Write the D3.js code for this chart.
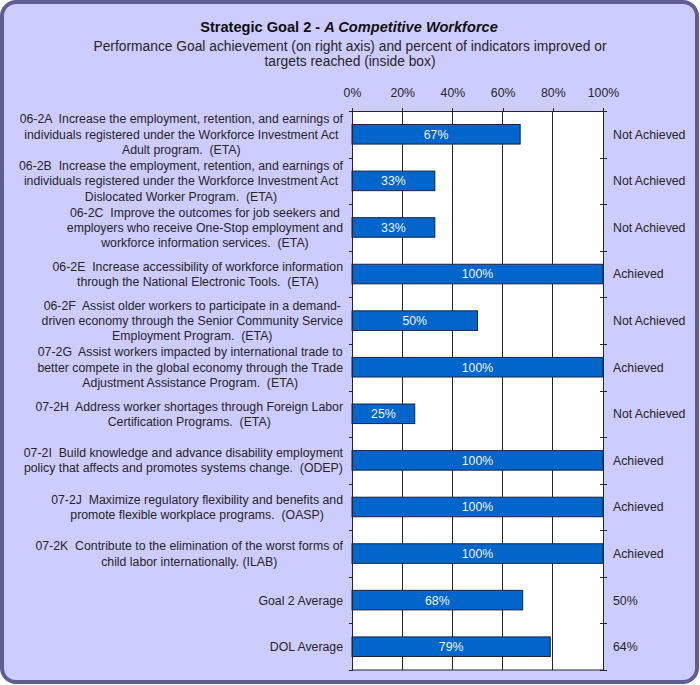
<!DOCTYPE html>
<html><head><meta charset="utf-8">
<script src="https://cdn.jsdelivr.net/npm/d3@7"></script>
<style>
body{margin:0;background:#fff;}
text{font-family:"Liberation Sans",Arial,sans-serif;white-space:pre;}
</style></head>
<body>
<svg id="chart" width="700" height="685"></svg>
<script>
const labels = [
 ["06-2A  Increase the employment, retention, and earnings of","individuals registered under the Workforce Investment Act","Adult program.  (ETA)"],
 ["06-2B  Increase the employment, retention, and earnings of","individuals registered under the Workforce Investment Act","Dislocated Worker Program.  (ETA)"],
 ["06-2C  Improve the outcomes for job seekers and","employers who receive One-Stop employment and","workforce information services.  (ETA)"],
 ["06-2E  Increase accessibility of workforce information","through the National Electronic Tools.  (ETA)"],
 ["06-2F  Assist older workers to participate in a demand-","driven economy through the Senior Community Service","Employment Program.  (ETA)"],
 ["07-2G  Assist workers impacted by international trade to","better compete in the global economy through the Trade","Adjustment Assistance Program.  (ETA)"],
 ["07-2H  Address worker shortages through Foreign Labor","Certification Programs.  (ETA)"],
 ["07-2I  Build knowledge and advance disability employment","policy that affects and promotes systems change.  (ODEP)"],
 ["07-2J  Maximize regulatory flexibility and benefits and","promote flexible workplace programs.  (OASP)"],
 ["07-2K  Contribute to the elimination of the worst forms of","child labor internationally. (ILAB)"],
 ["Goal 2 Average"],
 ["DOL Average"]
];
const values = [67, 33, 33, 100, 50, 100, 25, 100, 100, 100, 68, 79];
const achievement = ["Not Achieved","Not Achieved","Not Achieved","Achieved","Not Achieved","Achieved","Not Achieved","Achieved","Achieved","Achieved","50%","64%"];
const xTicks = [0, 20, 40, 60, 80, 100];
const titleBold = "Strategic Goal 2 - ";
const titleItalic = "A Competitive Workforce";
const subtitle = ["Performance Goal achievement (on right axis) and percent of indicators improved or","targets reached (inside box)"];

const svg = d3.select("#chart");
const W = 700, H = 685;
const plot = {left: 352, right: 603, top: 111, bottom: 670};
const ink = "#262626";
const fs = 12.3;

// panel
svg.append("rect").attr("x",2).attr("y",2).attr("width",W-5).attr("height",H-5)
  .attr("rx",14).attr("ry",14)
  .attr("fill","#ccccff").attr("stroke","#5e5e93").attr("stroke-width",4);

// title
const t = svg.append("text").attr("x",349).attr("y",32).attr("text-anchor","middle")
  .attr("font-size",14.6).attr("font-weight","bold").attr("fill","#111");
t.append("tspan").text(titleBold);
t.append("tspan").attr("font-style","italic").text(titleItalic);
subtitle.forEach((s,i)=>{
  svg.append("text").attr("x",350).attr("y",50.5+i*15.8).attr("text-anchor","middle")
    .attr("font-size",13.8).attr("fill",ink).text(s);
});

const idx = d3.range(values.length);
const x = d3.scaleLinear().domain([0,100]).range([plot.left, plot.right]);
const y = d3.scaleBand().domain(idx).range([plot.top, plot.bottom]).padding(0);
const yb = d3.scaleLinear().domain([0, values.length]).range([plot.top, plot.bottom]);
const barH = y.bandwidth()*0.42;

// plot background
svg.append("rect").attr("x",plot.left).attr("y",plot.top)
  .attr("width",plot.right-plot.left).attr("height",plot.bottom-plot.top).attr("fill","#fff");

// gridlines
svg.append("g").selectAll("line").data(xTicks.slice(1,-1)).join("line")
  .attr("x1",d=>x(d)).attr("x2",d=>x(d)).attr("y1",plot.top).attr("y2",plot.bottom)
  .attr("stroke",ink).attr("stroke-width",1).attr("shape-rendering","crispEdges");

// bars
svg.append("g").selectAll("rect").data(idx).join("rect")
  .attr("x",x(0)).attr("y",i=>y(i)+(y.bandwidth()-barH)/2)
  .attr("width",i=>x(values[i])-x(0)).attr("height",barH)
  .attr("fill","#0066cc").attr("stroke","#1c2240").attr("stroke-width",1);

svg.append("g").selectAll("text").data(idx).join("text")
  .attr("x",i=>(x(0)+x(values[i]))/2).attr("y",i=>y(i)+y.bandwidth()/2)
  .attr("dy","0.36em").attr("text-anchor","middle").attr("font-size",fs)
  .attr("fill","#f4f4f4").text(i=>values[i]+"%");

// axes
const axTop = svg.append("g").attr("transform",`translate(0,${plot.top})`)
  .call(d3.axisTop(x).tickValues(xTicks).tickFormat(d=>d+"%").tickSize(3).tickSizeOuter(3));
const axLeft = svg.append("g").attr("transform",`translate(${plot.left},0)`)
  .call(d3.axisLeft(yb).tickValues(d3.range(values.length+1)).tickFormat("").tickSize(3).tickSizeOuter(0));
const axRight = svg.append("g").attr("transform",`translate(${plot.right},0)`)
  .call(d3.axisRight(yb).tickValues(d3.range(values.length+1)).tickFormat("").tickSize(4).tickSizeOuter(0));
axRight.selectAll(".tick line").attr("x1",-3);
svg.append("line").attr("x1",plot.left).attr("x2",plot.right).attr("y1",plot.bottom).attr("y2",plot.bottom)
  .attr("stroke",ink);
[axTop,axLeft,axRight].forEach(a=>{
  a.selectAll("path,line").attr("stroke",ink).attr("shape-rendering","crispEdges");
});
axTop.selectAll("text").attr("font-size",fs).attr("fill",ink)
  .attr("font-family","'Liberation Sans',Arial,sans-serif").attr("y",-18).attr("dy","0.36em");

// left labels
const lineH = 15.3;
idx.forEach(i=>{
  const lines = labels[i];
  const g = svg.append("g");
  const texts = g.selectAll("text").data(lines).join("text")
    .attr("font-size",fs).attr("fill",ink).attr("text-anchor","middle")
    .attr("y",(d,k)=>y(i)+y.bandwidth()/2+(k-(lines.length-1)/2)*lineH)
    .attr("dy","0.36em").text(d=>d);
  let maxW = 0;
  texts.each(function(){ maxW = Math.max(maxW, this.getComputedTextLength()); });
  texts.attr("x", 343 - maxW/2);
});

// right labels
svg.append("g").selectAll("text").data(idx).join("text")
  .attr("x",613).attr("y",i=>y(i)+y.bandwidth()/2).attr("dy","0.36em")
  .attr("font-size",fs).attr("fill",ink).text(i=>achievement[i]);
</script>
</body></html>
